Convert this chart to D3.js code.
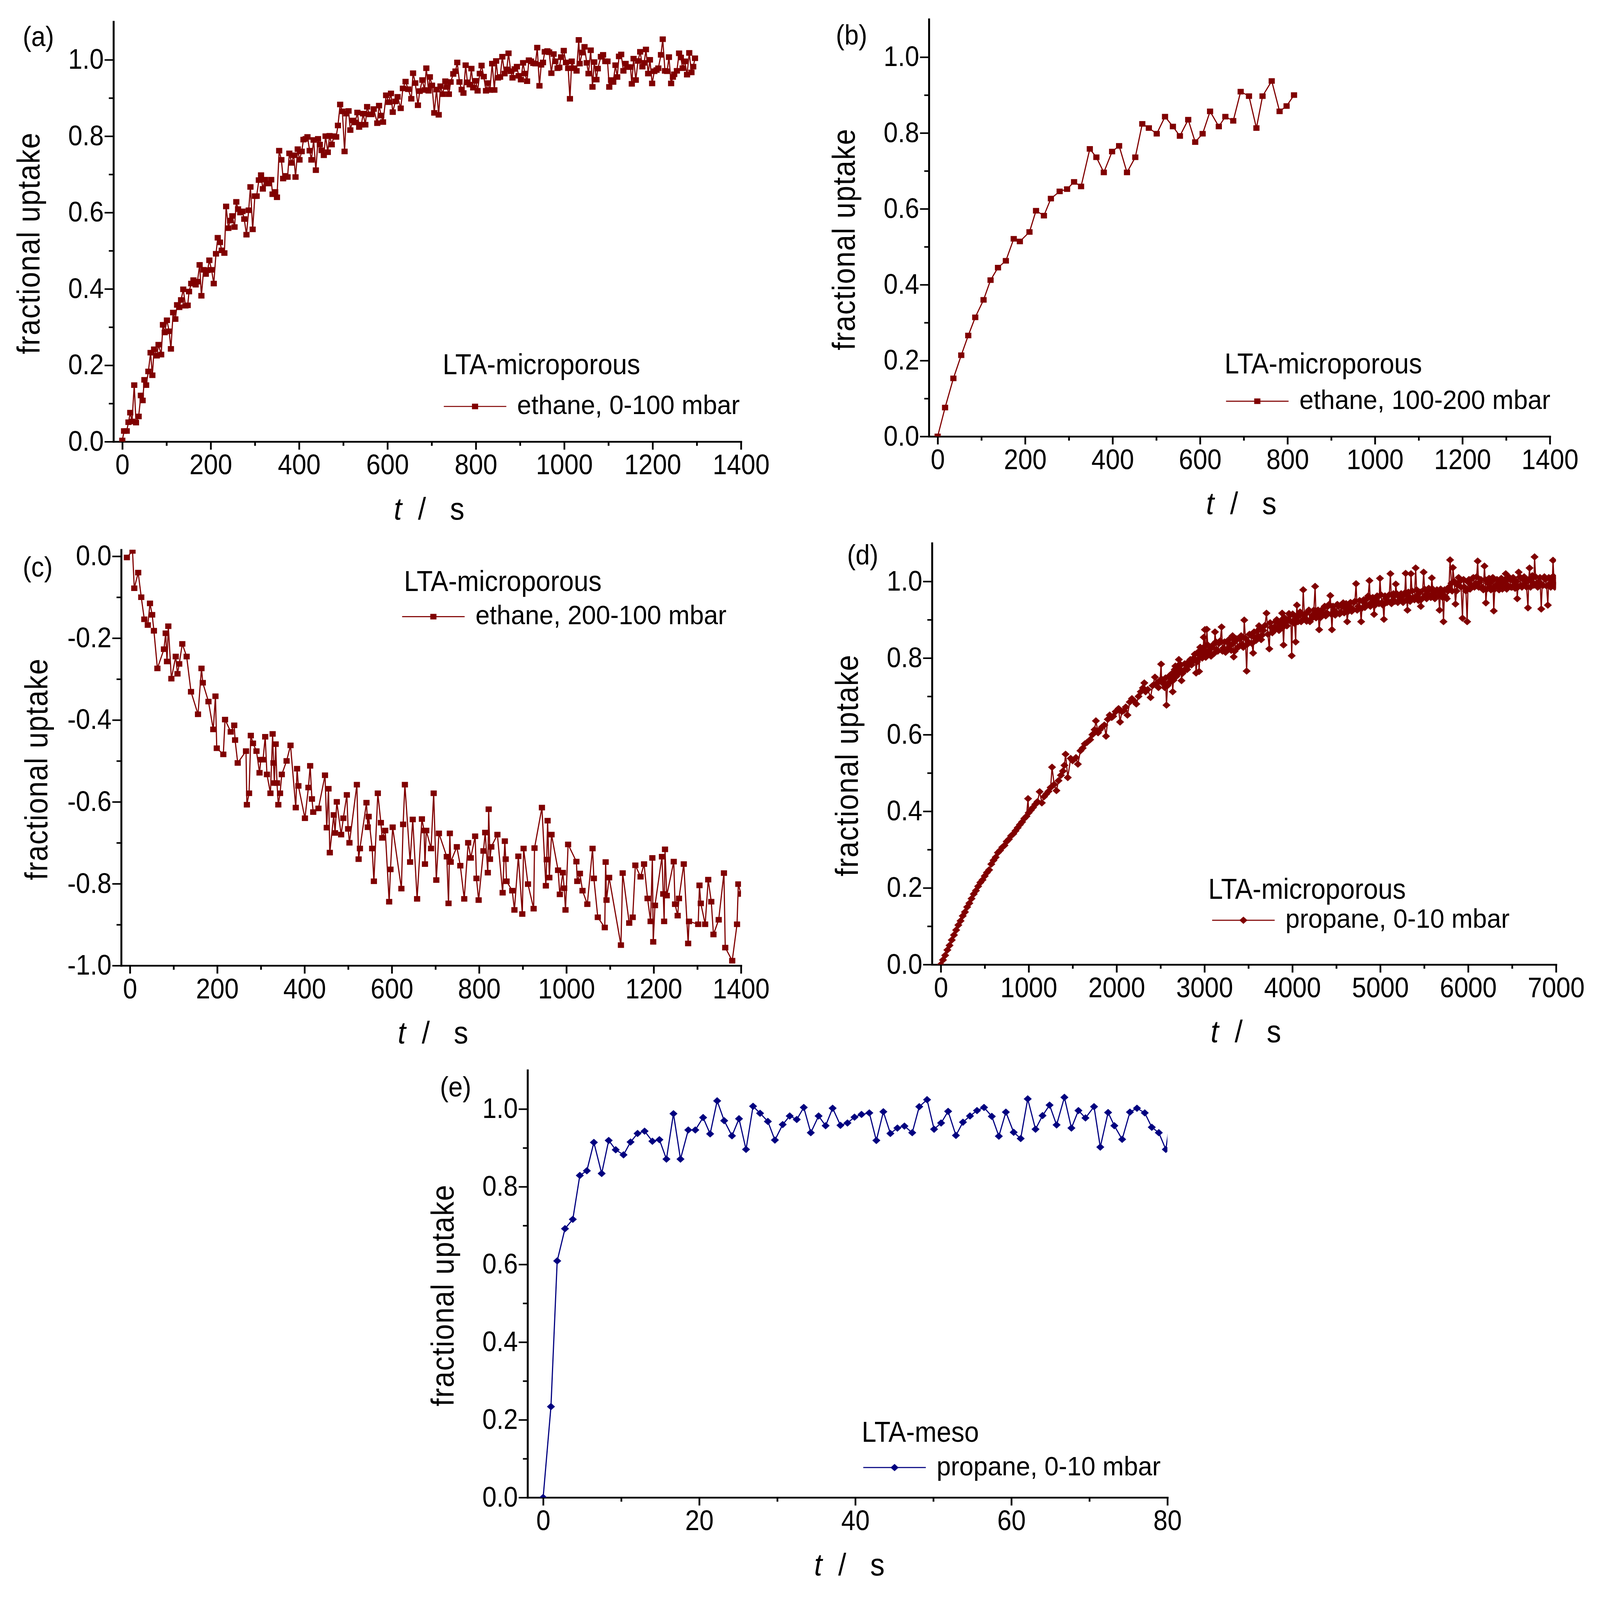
<!DOCTYPE html>
<html>
<head>
<meta charset="utf-8">
<script src="https://d3js.org/d3.v7.min.js"></script>
<style>
    html, body { margin: 0; padding: 0; background: #ffffff; overflow: hidden; }
    #chart-area svg { display: block; width: 100vw; height: 100vh; }
    svg text { font-family: "Liberation Sans Narrow", "Arial Narrow", "Liberation Sans", Arial, sans-serif; fill: #000000; }
</style>
</head>
<body>
<div id="chart-area"></div>
<script>

// ---- data: [t (s), fractional uptake] ----

var ethane0to100 = [[0,0.003],[4,0.028],[10,0.028],[14,0.051],[18,0.076],[22,0.053],[27,0.148],[31,0.050],[37,0.066],[42,0.121],[46,0.108],[50,0.162],[54,0.148],[59,0.184],[64,0.233],[68,0.174],[72,0.242],[78,0.225],[82,0.254],[88,0.228],[92,0.306],[96,0.286],[101,0.318],[106,0.289],[110,0.243],[115,0.338],[120,0.321],[124,0.358],[129,0.352],[133,0.371],[138,0.399],[143,0.356],[148,0.357],[151,0.393],[156,0.414],[161,0.423],[166,0.411],[170,0.419],[175,0.463],[179,0.382],[184,0.450],[189,0.439],[193,0.449],[197,0.475],[202,0.450],[207,0.414],[212,0.492],[216,0.534],[221,0.522],[225,0.501],[231,0.494],[235,0.616],[240,0.559],[244,0.579],[249,0.591],[254,0.562],[258,0.628],[262,0.609],[267,0.600],[272,0.603],[276,0.583],[281,0.542],[286,0.606],[290,0.667],[295,0.556],[300,0.643],[304,0.643],[309,0.685],[314,0.698],[318,0.662],[323,0.686],[328,0.676],[332,0.676],[337,0.686],[340,0.648],[346,0.654],[350,0.640],[355,0.762],[360,0.738],[364,0.689],[369,0.696],[374,0.693],[378,0.755],[383,0.730],[388,0.750],[392,0.693],[397,0.766],[401,0.738],[406,0.760],[410,0.791],[415,0.793],[419,0.798],[424,0.762],[428,0.738],[433,0.790],[438,0.711],[443,0.793],[447,0.778],[451,0.763],[456,0.750],[460,0.800],[465,0.758],[469,0.801],[474,0.778],[479,0.800],[484,0.798],[488,0.828],[493,0.883],[498,0.865],[503,0.760],[507,0.859],[512,0.866],[516,0.816],[521,0.841],[527,0.836],[532,0.862],[536,0.824],[541,0.830],[545,0.859],[550,0.830],[554,0.877],[559,0.857],[564,0.857],[569,0.871],[577,0.834],[581,0.880],[586,0.854],[590,0.837],[597,0.907],[603,0.889],[608,0.912],[612,0.863],[618,0.891],[623,0.903],[630,0.873],[635,0.925],[641,0.943],[647,0.923],[654,0.898],[658,0.965],[663,0.939],[669,0.881],[673,0.918],[679,0.947],[684,0.921],[688,0.978],[693,0.919],[696,0.955],[701,0.933],[706,0.861],[711,0.922],[716,0.856],[720,0.931],[725,0.910],[731,0.944],[735,0.929],[739,0.910],[743,0.942],[749,0.963],[754,0.970],[758,0.993],[763,0.942],[768,0.922],[772,0.913],[777,0.986],[781,0.941],[786,0.935],[790,0.977],[794,0.927],[800,0.945],[804,0.919],[809,0.964],[813,0.985],[818,0.956],[823,0.919],[827,0.939],[832,0.921],[837,0.990],[842,0.921],[846,0.997],[850,0.953],[855,0.955],[860,1.008],[865,0.964],[870,0.975],[874,1.017],[879,0.970],[883,0.953],[888,0.976],[893,0.982],[897,0.958],[902,0.948],[907,0.992],[911,0.964],[916,0.944],[920,0.999],[925,0.996],[930,0.991],[935,0.990],[939,1.032],[944,0.932],[948,0.987],[952,0.993],[956,1.021],[962,1.023],[966,1.020],[971,0.965],[976,1.015],[980,0.996],[985,0.978],[989,0.980],[993,1.007],[999,1.024],[1004,0.993],[1009,0.978],[1013,0.898],[1017,0.996],[1022,0.978],[1028,0.971],[1033,1.052],[1035,0.990],[1041,1.019],[1046,1.034],[1051,0.992],[1055,0.964],[1060,1.025],[1064,0.929],[1068,0.994],[1073,0.948],[1076,0.977],[1083,1.008],[1088,1.013],[1093,0.996],[1098,0.996],[1102,0.929],[1106,0.947],[1111,0.942],[1116,0.986],[1120,0.955],[1124,1.009],[1129,1.014],[1134,0.971],[1139,0.990],[1144,0.981],[1150,0.981],[1153,0.937],[1157,1.003],[1162,0.947],[1167,0.997],[1172,1.021],[1177,0.982],[1181,0.992],[1185,1.027],[1190,0.964],[1194,1.000],[1199,0.938],[1204,0.970],[1209,0.973],[1213,0.978],[1219,1.013],[1223,1.054],[1228,0.971],[1233,0.970],[1237,1.007],[1242,0.938],[1246,0.955],[1249,0.962],[1255,0.971],[1260,1.017],[1264,1.006],[1268,0.978],[1273,0.996],[1278,0.961],[1283,1.018],[1288,0.967],[1292,0.982],[1296,1.004]];

var ethane100to200 = [[0,0.000],[17,0.076],[36,0.153],[54,0.214],[70,0.266],[86,0.314],[105,0.360],[121,0.412],[138,0.445],[156,0.463],[174,0.521],[188,0.514],[210,0.539],[225,0.595],[243,0.582],[259,0.627],[279,0.646],[296,0.652],[312,0.671],[328,0.659],[348,0.758],[363,0.736],[380,0.696],[399,0.751],[415,0.766],[433,0.696],[452,0.736],[468,0.824],[483,0.813],[501,0.798],[520,0.843],[538,0.817],[554,0.792],[573,0.835],[589,0.776],[606,0.798],[623,0.857],[643,0.817],[658,0.843],[676,0.832],[693,0.909],[712,0.897],[729,0.813],[743,0.897],[764,0.937],[782,0.857],[798,0.871],[815,0.900]];

var ethane200to100 = [[-7,-0.003],[6,0.013],[10,-0.078],[19,-0.040],[26,-0.100],[33,-0.154],[41,-0.168],[46,-0.115],[51,-0.143],[55,-0.182],[63,-0.274],[78,-0.227],[82,-0.188],[85,-0.257],[88,-0.171],[95,-0.299],[105,-0.245],[109,-0.287],[113,-0.263],[120,-0.214],[130,-0.245],[140,-0.331],[156,-0.386],[164,-0.274],[167,-0.309],[180,-0.355],[191,-0.423],[196,-0.342],[199,-0.469],[214,-0.484],[218,-0.399],[231,-0.429],[239,-0.413],[241,-0.449],[247,-0.505],[266,-0.476],[268,-0.607],[273,-0.579],[277,-0.438],[282,-0.457],[290,-0.476],[297,-0.529],[300,-0.497],[305,-0.497],[310,-0.441],[314,-0.533],[322,-0.579],[327,-0.434],[329,-0.505],[331,-0.554],[334,-0.459],[337,-0.554],[340,-0.607],[344,-0.579],[348,-0.533],[359,-0.500],[368,-0.462],[380,-0.614],[383,-0.519],[386,-0.561],[401,-0.640],[409,-0.565],[413,-0.512],[417,-0.593],[420,-0.625],[432,-0.616],[447,-0.535],[451,-0.663],[455,-0.568],[458,-0.724],[467,-0.632],[470,-0.676],[474,-0.600],[484,-0.680],[489,-0.640],[497,-0.583],[500,-0.666],[503,-0.700],[520,-0.558],[524,-0.740],[527,-0.714],[542,-0.602],[545,-0.662],[547,-0.636],[555,-0.714],[559,-0.794],[568,-0.579],[575,-0.651],[578,-0.688],[585,-0.670],[594,-0.844],[597,-0.765],[602,-0.662],[622,-0.812],[626,-0.655],[630,-0.558],[642,-0.747],[648,-0.643],[658,-0.837],[669,-0.642],[674,-0.670],[676,-0.752],[679,-0.670],[690,-0.714],[696,-0.579],[702,-0.791],[708,-0.677],[726,-0.734],[730,-0.848],[733,-0.677],[735,-0.747],[749,-0.710],[757,-0.756],[766,-0.837],[775,-0.700],[781,-0.737],[791,-0.684],[794,-0.787],[799,-0.840],[810,-0.720],[814,-0.675],[820,-0.773],[822,-0.618],[825,-0.740],[828,-0.710],[842,-0.680],[854,-0.822],[859,-0.696],[861,-0.740],[863,-0.794],[876,-0.817],[881,-0.864],[890,-0.733],[899,-0.874],[902,-0.714],[912,-0.801],[925,-0.861],[927,-0.713],[944,-0.614],[953,-0.805],[955,-0.741],[957,-0.646],[961,-0.785],[966,-0.680],[981,-0.767],[985,-0.826],[992,-0.773],[995,-0.811],[998,-0.864],[1004,-0.704],[1023,-0.746],[1025,-0.794],[1031,-0.775],[1037,-0.817],[1048,-0.850],[1060,-0.714],[1063,-0.787],[1072,-0.882],[1088,-0.907],[1090,-0.747],[1092,-0.840],[1098,-0.785],[1125,-0.950],[1129,-0.774],[1144,-0.896],[1152,-0.882],[1158,-0.755],[1170,-0.783],[1178,-0.752],[1186,-0.836],[1193,-0.892],[1197,-0.737],[1199,-0.942],[1203,-0.853],[1219,-0.734],[1222,-0.825],[1224,-0.892],[1226,-0.716],[1230,-0.829],[1246,-0.746],[1249,-0.850],[1255,-0.878],[1258,-0.836],[1269,-0.752],[1279,-0.946],[1281,-0.892],[1302,-0.899],[1305,-0.804],[1308,-0.848],[1318,-0.899],[1325,-0.790],[1332,-0.844],[1337,-0.924],[1349,-0.888],[1361,-0.774],[1364,-0.956],[1380,-0.988],[1391,-0.899],[1394,-0.801],[1400,-0.825]];

var propaneMicro = [[0,0.000],[25,0.012],[50,0.024],[75,0.038],[100,0.050],[125,0.064],[150,0.077],[175,0.090],[200,0.103],[225,0.114],[250,0.127],[275,0.137],[300,0.150],[325,0.160],[350,0.172],[375,0.184],[400,0.193],[425,0.204],[450,0.214],[475,0.221],[500,0.231],[525,0.240],[550,0.247],[575,0.262],[600,0.272],[625,0.280],[650,0.292],[675,0.298],[700,0.306],[725,0.311],[750,0.321],[775,0.327],[800,0.336],[825,0.341],[850,0.349],[875,0.357],[900,0.365],[925,0.372],[950,0.381],[975,0.387],[993,0.433],[1000,0.396],[1025,0.403],[1050,0.410],[1075,0.418],[1100,0.425],[1125,0.451],[1150,0.422],[1175,0.438],[1200,0.445],[1225,0.452],[1250,0.462],[1266,0.515],[1290,0.470],[1316,0.454],[1340,0.480],[1367,0.494],[1390,0.505],[1407,0.520],[1420,0.549],[1445,0.488],[1478,0.538],[1500,0.532],[1538,0.540],[1560,0.523],[1589,0.558],[1615,0.565],[1639,0.576],[1665,0.580],[1700,0.587],[1725,0.600],[1750,0.613],[1765,0.636],[1790,0.605],[1811,0.613],[1835,0.620],[1861,0.625],[1880,0.596],[1900,0.640],[1922,0.651],[1945,0.645],[1962,0.648],[1990,0.660],[2023,0.668],[2040,0.633],[2060,0.660],[2083,0.663],[2105,0.672],[2124,0.651],[2150,0.685],[2175,0.694],[2200,0.688],[2225,0.680],[2250,0.700],[2276,0.712],[2300,0.722],[2316,0.735],[2330,0.712],[2355,0.718],[2387,0.697],[2410,0.728],[2437,0.750],[2460,0.735],[2477,0.723],[2495,0.742],[2507,0.784],[2525,0.738],[2548,0.723],[2568,0.677],[2590,0.735],[2608,0.755],[2625,0.748],[2639,0.712],[2655,0.760],[2669,0.779],[2690,0.765],[2709,0.796],[2725,0.770],[2739,0.741],[2760,0.765],[2790,0.773],[2815,0.780],[2840,0.796],[2865,0.790],[2890,0.810],[2905,0.761],[2925,0.815],[2939,0.765],[2952,0.828],[2975,0.800],[2992,0.854],[3005,0.874],[3015,0.802],[3027,0.875],[3050,0.820],[3075,0.805],[3100,0.835],[3120,0.868],[3140,0.822],[3165,0.838],[3195,0.881],[3215,0.826],[3240,0.815],[3265,0.840],[3290,0.832],[3320,0.858],[3333,0.803],[3355,0.845],[3380,0.828],[3405,0.850],[3430,0.836],[3453,0.899],[3480,0.766],[3500,0.842],[3525,0.860],[3554,0.813],[3575,0.852],[3600,0.870],[3621,0.884],[3645,0.848],[3670,0.872],[3706,0.917],[3738,0.824],[3760,0.880],[3785,0.870],[3810,0.895],[3835,0.878],[3860,0.888],[3884,0.917],[3900,0.834],[3925,0.892],[3950,0.900],[3975,0.912],[3993,0.806],[4015,0.898],[4038,0.842],[4052,0.938],[4075,0.910],[4100,0.895],[4124,0.978],[4150,0.903],[4175,0.920],[4200,0.895],[4230,0.912],[4259,0.987],[4280,0.915],[4305,0.874],[4330,0.920],[4355,0.930],[4380,0.910],[4405,0.935],[4432,0.963],[4451,0.874],[4475,0.925],[4500,0.918],[4525,0.935],[4550,0.920],[4579,0.944],[4600,0.930],[4624,0.895],[4650,0.935],[4675,0.922],[4700,0.945],[4725,0.994],[4750,0.935],[4783,0.895],[4800,0.948],[4825,0.932],[4850,0.955],[4877,1.002],[4900,0.945],[4930,0.914],[4955,0.950],[4975,0.960],[4997,1.008],[5020,0.945],[5042,0.901],[5065,0.955],[5090,0.948],[5116,1.020],[5140,0.950],[5160,0.962],[5177,0.993],[5200,0.945],[5225,0.958],[5250,0.950],[5270,0.965],[5289,1.021],[5310,0.925],[5330,0.960],[5350,1.020],[5375,0.958],[5403,1.035],[5425,0.965],[5445,0.955],[5462,0.935],[5494,1.024],[5515,0.965],[5540,0.975],[5565,0.962],[5587,1.009],[5610,0.970],[5635,0.958],[5655,0.975],[5675,0.925],[5700,0.968],[5720,0.895],[5745,0.960],[5770,0.975],[5795,1.056],[5810,0.995],[5827,1.036],[5856,0.941],[5880,0.990],[5905,1.000],[5936,0.904],[5960,0.985],[5989,0.895],[6010,1.005],[6035,0.990],[6060,1.010],[6085,0.995],[6109,1.053],[6130,0.998],[6160,0.985],[6186,1.040],[6202,0.944],[6225,0.995],[6250,0.985],[6270,1.000],[6292,0.923],[6315,0.990],[6340,0.982],[6365,0.995],[6390,0.980],[6410,1.000],[6428,1.020],[6450,0.990],[6475,1.005],[6500,0.985],[6525,0.998],[6545,0.985],[6559,0.955],[6575,1.024],[6600,0.990],[6625,1.005],[6650,0.995],[6681,0.931],[6699,1.035],[6720,1.000],[6740,1.010],[6756,1.064],[6780,0.995],[6805,1.000],[6832,0.928],[6855,0.990],[6880,1.005],[6907,0.938],[6930,0.995],[6950,1.010],[6966,1.055],[6985,0.985],[7000,1.000]];

// the denser samples inside the thick band of (d), read separately
var propaneMicroBand = [[2512,0.745],[2536,0.732],[2557,0.748],[2580,0.728],[2598,0.750],[2616,0.738],[2632,0.760],[2647,0.742],[2662,0.770],[2680,0.752],[2700,0.780],[2717,0.762],[2732,0.782],[2750,0.760],[2775,0.785],[2803,0.770],[2828,0.792],[2853,0.782],[2878,0.800],[2898,0.795],[2915,0.790],[2932,0.810],[2946,0.800],[2964,0.818],[2984,0.812],[2998,0.820],[3010,0.832],[3021,0.815],[3038,0.834],[3062,0.808],[3088,0.828],[3110,0.812],[3130,0.842],[3152,0.818],[3180,0.845],[3205,0.818],[3228,0.842],[3252,0.822],[3278,0.848],[3305,0.820],[3326,0.838],[3344,0.818],[3368,0.850],[3392,0.830],[3418,0.858],[3442,0.828],[3466,0.852],[3490,0.836],[3512,0.862],[3540,0.838],[3565,0.868],[3588,0.846],[3610,0.858],[3633,0.878],[3658,0.860],[3688,0.885],[3722,0.862],[3748,0.892],[3772,0.866],[3798,0.882],[3822,0.900],[3848,0.872],[3872,0.898],[3892,0.880],[3912,0.905],[3938,0.884],[3962,0.916],[3984,0.895],[4004,0.915],[4026,0.890],[4045,0.908],[4064,0.895],[4088,0.920],[4112,0.898],[4137,0.912],[4162,0.896],[4188,0.925],[4215,0.902],[4245,0.925],[4270,0.905],[4292,0.925],[4318,0.905],[4342,0.915],[4368,0.935],[4392,0.918],[4418,0.940],[4441,0.915],[4463,0.935],[4488,0.912],[4512,0.940],[4538,0.915],[4565,0.935],[4590,0.918],[4612,0.942],[4637,0.922],[4662,0.945],[4688,0.928],[4712,0.948],[4738,0.925],[4766,0.950],[4792,0.930],[4812,0.952],[4838,0.940],[4863,0.962],[4888,0.935],[4915,0.958],[4942,0.938],[4965,0.962],[4986,0.942],[5008,0.965],[5031,0.938],[5054,0.962],[5078,0.945],[5103,0.965],[5128,0.942],[5150,0.968],[5168,0.948],[5188,0.968],[5212,0.948],[5238,0.968],[5260,0.945],[5280,0.970],[5300,0.952],[5320,0.972],[5340,0.948],[5362,0.975],[5389,0.952],[5414,0.978],[5435,0.950],[5453,0.972],[5478,0.955],[5505,0.980],[5528,0.955],[5552,0.982],[5576,0.958],[5598,0.980],[5622,0.955],[5645,0.978],[5665,0.962],[5688,0.980],[5710,0.958],[5732,0.978],[5758,0.955],[5782,0.985],[5818,0.975],[5842,1.000],[5868,0.975],[5892,1.010],[5920,0.985],[5948,1.005],[5975,0.975],[6000,0.998],[6022,0.980],[6048,1.008],[6072,0.985],[6097,1.012],[6120,0.985],[6145,1.005],[6173,0.978],[6194,1.005],[6213,0.980],[6238,1.008],[6260,0.978],[6281,1.010],[6303,0.980],[6328,1.005],[6352,0.978],[6378,1.008],[6400,0.985],[6419,1.005],[6439,0.980],[6462,1.012],[6488,0.985],[6512,1.010],[6535,0.982],[6552,1.000],[6567,0.985],[6588,1.012],[6612,0.985],[6638,1.012],[6665,0.985],[6690,1.005],[6710,0.985],[6730,1.015],[6748,0.990],[6768,1.012],[6792,0.985],[6818,1.010],[6843,0.990],[6868,1.012],[6893,0.988],[6918,1.010],[6940,0.985],[6958,1.002],[6975,1.012],[6992,0.990]];

var propaneMeso = [[0,0.000],[1.0,0.234],[1.8,0.609],[2.8,0.692],[3.8,0.716],[4.7,0.829],[5.6,0.841],[6.5,0.914],[7.5,0.834],[8.4,0.919],[9.3,0.895],[10.3,0.882],[11.2,0.915],[12.1,0.937],[13.0,0.943],[14.0,0.917],[14.9,0.921],[15.8,0.871],[16.7,0.988],[17.6,0.871],[18.6,0.946],[19.5,0.946],[20.5,0.978],[21.4,0.936],[22.3,1.021],[23.2,0.970],[24.2,0.931],[25.1,0.975],[26.0,0.896],[26.9,1.007],[27.8,0.989],[28.8,0.968],[29.7,0.920],[30.7,0.960],[31.6,0.982],[32.5,0.973],[33.4,1.004],[34.3,0.939],[35.3,0.982],[36.2,0.957],[37.1,1.002],[38.1,0.958],[39.0,0.964],[39.9,0.979],[40.8,0.986],[41.8,0.990],[42.7,0.919],[43.6,0.993],[44.5,0.937],[45.4,0.951],[46.3,0.956],[47.3,0.939],[48.2,1.006],[49.2,1.024],[50.1,0.948],[51.0,0.964],[51.9,0.994],[52.9,0.932],[53.8,0.966],[54.7,0.982],[55.6,0.996],[56.5,1.004],[57.5,0.981],[58.4,0.930],[59.3,0.992],[60.3,0.940],[61.2,0.924],[62.1,1.026],[63.1,0.948],[64.0,0.983],[64.9,1.010],[65.8,0.959],[66.8,1.030],[67.7,0.951],[68.6,0.996],[69.5,0.977],[70.6,1.006],[71.4,0.902],[72.4,0.991],[73.2,0.957],[74.2,0.922],[75.2,0.992],[76.1,1.002],[77.1,0.990],[78.0,0.953],[78.9,0.939],[79.8,0.896],[80.7,1.020]];

// tick values and labels
var xTicksEthane  = [0, 200, 400, 600, 800, 1000, 1200, 1400];
var xMinorEthane  = [100, 300, 500, 700, 900, 1100, 1300];
var xTicksPropane = [0, 1000, 2000, 3000, 4000, 5000, 6000, 7000];
var xMinorPropane = [500, 1500, 2500, 3500, 4500, 5500, 6500];
var xTicksMeso    = [0, 20, 40, 60, 80];
var xMinorMeso    = [10, 30, 50, 70];
var yTicksUp      = [0.0, 0.2, 0.4, 0.6, 0.8, 1.0];
var yMinorUp      = [0.1, 0.3, 0.5, 0.7, 0.9];
var yTicksDown    = [0.0, -0.2, -0.4, -0.6, -0.8, -1.0];
var yMinorDown    = [-0.1, -0.3, -0.5, -0.7, -0.9];

var panelLetters = ["(a)", "(b)", "(c)", "(d)", "(e)"];
var sampleNames  = ["LTA-microporous", "LTA-microporous", "LTA-microporous", "LTA-microporous", "LTA-meso"];
var runNames     = ["ethane, 0-100 mbar", "ethane, 100-200 mbar", "ethane, 200-100 mbar", "propane, 0-10 mbar", "propane, 0-10 mbar"];


/*
 * Panel layout (pixel frame of each plot, legend anchors, marker style)
 */

var layouts = [
    {left: 294,  right: 1920, top: 62,   bottom: 1267, xDomain: [-20, 1400], yDomain: [0, 1.1],
     letterAt: [59, 132],    titleAt: [1147, 1073], keyAt: [1150, 1166], color: "#800000", marker: "square"},
    {left: 2407, right: 4016, top: 55,   bottom: 1252, xDomain: [-20, 1400], yDomain: [0, 1.1],
     letterAt: [2166, 128],  titleAt: [3173, 1071], keyAt: [3177, 1151], color: "#800000", marker: "square"},
    {left: 314,  right: 1920, top: 1577, bottom: 2770, xDomain: [-20, 1400], yDomain: [-1.0, 0.016],
     letterAt: [59, 1654],   titleAt: [1047, 1696], keyAt: [1042, 1769], color: "#800000", marker: "square"},
    {left: 2415, right: 4032, top: 1558, bottom: 2767, xDomain: [-100, 7000], yDomain: [0, 1.1],
     letterAt: [2195, 1619], titleAt: [3131, 2579], keyAt: [3141, 2640], color: "#800000", marker: "diamond"},
    {left: 1367, right: 3025, top: 3070, bottom: 4296, xDomain: [-2, 80], yDomain: [0, 1.1],
     letterAt: [1140, 3145], titleAt: [2233, 4136], keyAt: [2237, 4210], color: "#000080", marker: "diamond"}
];

var tickSets = [
    {xMajor: xTicksEthane,  xMinor: xMinorEthane,  yMajor: yTicksUp,   yMinor: yMinorUp},
    {xMajor: xTicksEthane,  xMinor: xMinorEthane,  yMajor: yTicksUp,   yMinor: yMinorUp},
    {xMajor: xTicksEthane,  xMinor: xMinorEthane,  yMajor: yTicksDown, yMinor: yMinorDown},
    {xMajor: xTicksPropane, xMinor: xMinorPropane, yMajor: yTicksUp,   yMinor: yMinorUp},
    {xMajor: xTicksMeso,    xMinor: xMinorMeso,    yMajor: yTicksUp,   yMinor: yMinorUp}
];

var allSeries = [ethane0to100, ethane100to200, ethane200to100, propaneMicro.concat(propaneMicroBand), propaneMeso];

var FONT = "'Liberation Sans Narrow', 'Arial Narrow', 'Liberation Sans', Arial, sans-serif";
var NARROW = 0.83;   // the figure uses a condensed face


UptakePanel = function(_svg, _index, _layout, _ticks, _data){
    this.svg = _svg;
    this.index = _index;
    this.layout = _layout;
    this.ticks = _ticks;
    this.data = _data;

    this.initVis();
}


/*
 * Initialize visualization (scales, axes, titles)
 */

UptakePanel.prototype.initVis = function(){
    var vis = this;
    var L = vis.layout;

    vis.x = d3.scaleLinear().domain(L.xDomain).range([L.left, L.right]);
    vis.y = d3.scaleLinear().domain(L.yDomain).range([L.bottom, L.top]);

    vis.g = vis.svg.append("g").attr("class", "panel panel-" + vis.index);

    vis.clipId = "plot-clip-" + vis.index;
    vis.g.append("clipPath")
        .attr("id", vis.clipId)
        .append("rect")
        .attr("x", L.left)
        .attr("y", L.top)
        .attr("width", L.right - L.left)
        .attr("height", L.bottom - L.top);

    // minor ticks (no labels)
    vis.g.append("g")
        .attr("class", "x-minor")
        .attr("transform", "translate(0," + L.bottom + ")")
        .call(d3.axisBottom(vis.x).tickValues(vis.ticks.xMinor).tickSize(12).tickSizeOuter(0).tickFormat(""));

    vis.g.append("g")
        .attr("class", "y-minor")
        .attr("transform", "translate(" + L.left + ",0)")
        .call(d3.axisLeft(vis.y).tickValues(vis.ticks.yMinor).tickSize(12).tickSizeOuter(0).tickFormat(""));

    vis.g.selectAll(".x-minor path.domain, .y-minor path.domain").remove();

    // major ticks with labels
    vis.xAxis = d3.axisBottom(vis.x)
        .tickValues(vis.ticks.xMajor)
        .tickSize(23)
        .tickSizeOuter(0)
        .tickPadding(14)
        .tickFormat(function(d) { return String(d); });

    vis.yAxis = d3.axisLeft(vis.y)
        .tickValues(vis.ticks.yMajor)
        .tickSize(23)
        .tickSizeOuter(0)
        .tickPadding(2)
        .tickFormat(function(d) { return d.toFixed(1); });

    vis.g.append("g")
        .attr("class", "x-axis")
        .attr("transform", "translate(0," + L.bottom + ")")
        .call(vis.xAxis);

    vis.g.append("g")
        .attr("class", "y-axis")
        .attr("transform", "translate(" + L.left + ",0)")
        .call(vis.yAxis);

    vis.g.selectAll(".x-axis, .y-axis, .x-minor, .y-minor")
        .attr("font-size", 80)
        .attr("font-family", FONT);

    vis.g.selectAll(".tick line")
        .attr("stroke", "#000")
        .attr("stroke-width", 4.5);

    vis.g.selectAll("path.domain")
        .attr("stroke", "#000")
        .attr("stroke-width", 5)
        .attr("stroke-linecap", "square");

    vis.g.selectAll(".tick text").attr("fill", "#000");

    // axis titles
    vis.g.append("text")
        .attr("class", "y-title")
        .attr("text-anchor", "middle")
        .attr("transform", "translate(" + (L.left - 192) + "," + ((L.top + L.bottom) / 2 + 34) + ") rotate(-90)")
        .attr("font-size", 82)
        .attr("textLength", 635)
        .attr("lengthAdjust", "spacing")
        .text("fractional uptake");

    var xTitle = vis.g.append("text")
        .attr("class", "x-title")
        .attr("text-anchor", "middle")
        .attr("x", (L.left + L.right) / 2 + 5)
        .attr("y", L.bottom + 223)
        .attr("font-size", 90);
    xTitle.append("tspan").attr("font-style", "italic").text("t");
    xTitle.append("tspan").text("\u00a0\u00a0/\u00a0\u00a0\u00a0s");

    // panel letter
    vis.g.append("text")
        .attr("class", "panel-letter")
        .attr("x", L.letterAt[0])
        .attr("y", L.letterAt[1])
        .attr("font-size", 80)
        .text(panelLetters[vis.index]);

    vis.symbol = d3.symbol()
        .type(d3.symbolSquare)
        .size(L.marker === "square" ? 256 : 220);

    vis.markerTransform = function(px, py) {
        return "translate(" + px + "," + py + ")" + (L.marker === "diamond" ? " rotate(45)" : "");
    };

    vis.wrangleData();
}


/*
 * Data wrangling
 */

UptakePanel.prototype.wrangleData = function(){
    var vis = this;

    vis.displayData = vis.data
        .map(function(d) { return {t: d[0], v: d[1]}; })
        .sort(function(a, b) { return a.t - b.t; });

    vis.updateVis();
}


/*
 * The drawing function
 */

UptakePanel.prototype.updateVis = function(){
    var vis = this;
    var L = vis.layout;

    vis.line = d3.line()
        .x(function(d) { return vis.x(d.t); })
        .y(function(d) { return vis.y(d.v); });

    var plot = vis.g.append("g")
        .attr("class", "series")
        .attr("clip-path", "url(#" + vis.clipId + ")");

    plot.append("path")
        .datum(vis.displayData)
        .attr("fill", "none")
        .attr("stroke", L.color)
        .attr("stroke-width", 3)
        .attr("stroke-linejoin", "round")
        .attr("d", vis.line);

    plot.selectAll(".mark")
        .data(vis.displayData)
        .enter().append("path")
        .attr("class", "mark")
        .attr("d", vis.symbol)
        .attr("fill", L.color)
        .attr("transform", function(d) { return vis.markerTransform(vis.x(d.t), vis.y(d.v)); });

    // legend
    var legend = vis.g.append("g").attr("class", "legend");

    legend.append("text")
        .attr("x", L.titleAt[0])
        .attr("y", L.titleAt[1])
        .attr("font-size", 82)
        .text(sampleNames[vis.index]);

    legend.append("line")
        .attr("x1", L.keyAt[0])
        .attr("x2", L.keyAt[0] + 162)
        .attr("y1", L.keyAt[1])
        .attr("y2", L.keyAt[1])
        .attr("stroke", L.color)
        .attr("stroke-width", 3);

    legend.append("path")
        .attr("d", vis.symbol)
        .attr("fill", L.color)
        .attr("transform", vis.markerTransform(L.keyAt[0] + 81, L.keyAt[1]));

    // slightly smaller face, condensed a little less, so the longest run name stays inside the page
    legend.append("text")
        .attr("class", "run-name")
        .attr("x", L.keyAt[0] + 190)
        .attr("y", L.keyAt[1] + 22)
        .attr("font-size", 76)
        .text(runNames[vis.index]);
}


var svg = d3.select("#chart-area").append("svg")
    .attr("viewBox", "0 0 4146 4590")
    .attr("preserveAspectRatio", "none");

svg.append("rect")
    .attr("width", 4146)
    .attr("height", 4590)
    .attr("fill", "#ffffff");

var panels = layouts.map(function(layout, i) {
    return new UptakePanel(svg, i, layout, tickSets[i], allSeries[i]);
});

// condense every label except the spaced-out y titles
svg.selectAll("text")
    .filter(function() { return !d3.select(this).classed("y-title"); })
    .each(function() {
        var node = d3.select(this);
        var squeeze = node.classed("run-name") ? 0.87 : NARROW;
        var len = this.getComputedTextLength();
        if (len > 0) {
            node.attr("textLength", len * squeeze)
                .attr("lengthAdjust", "spacingAndGlyphs");
        }
    });

</script>
</body>
</html>
